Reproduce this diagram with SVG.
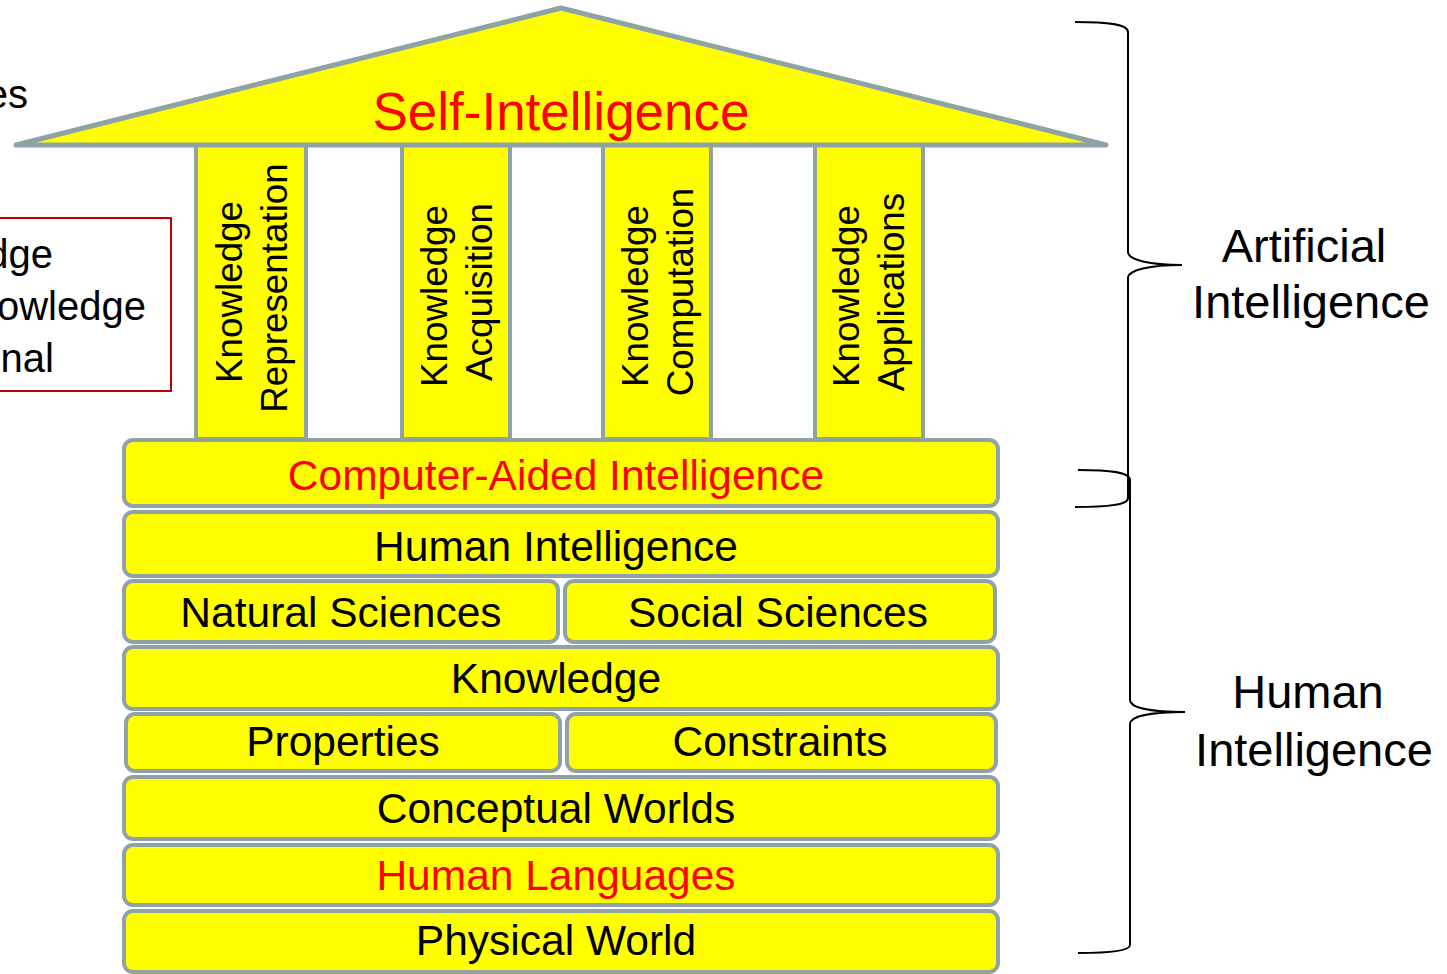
<svg xmlns="http://www.w3.org/2000/svg" width="1447" height="974" viewBox="0 0 1447 974">
<style>
text{font-family:"Liberation Sans",Arial,sans-serif;fill:#000}
.red{fill:#FF0000}
.blk{fill:#FFFF00;stroke:#8FA3A7;stroke-width:4}
.pil{fill:#FFFF00;stroke:#8FA3A7;stroke-width:4}
.t42{font-size:42.5px;text-anchor:middle}
.t36{font-size:36.8px;text-anchor:middle}
.t46{font-size:47px;text-anchor:middle}
.t40{font-size:40px;text-anchor:end}
.brace{fill:none;stroke:#000;stroke-width:2}
</style>
<rect width="1447" height="974" fill="#FFFFFF"/>
<g id="left-fragments">
<text class="t40" x="28" y="108">es</text>
<rect x="-10" y="218" width="181" height="173" fill="none" stroke="#C00000" stroke-width="2"/>
<text class="t40" x="53" y="268">dge</text>
<text class="t40" x="146" y="320">owledge</text>
<text class="t40" x="54" y="372">nal</text>
</g>
<g id="pillar-representation">
<rect class="pil" x="196" y="143" width="110" height="296"/>
<text class="t36" transform="translate(242,292) rotate(-90)">Knowledge</text>
<text class="t36" transform="translate(287,288) rotate(-90)">Representation</text>
</g>
<g id="pillar-acquisition">
<rect class="pil" x="402" y="143" width="108" height="296"/>
<text class="t36" transform="translate(447,296) rotate(-90)">Knowledge</text>
<text class="t36" transform="translate(492,292) rotate(-90)">Acquisition</text>
</g>
<g id="pillar-computation">
<rect class="pil" x="603" y="143" width="108" height="296"/>
<text class="t36" transform="translate(648,296) rotate(-90)">Knowledge</text>
<text class="t36" transform="translate(693,292) rotate(-90)">Computation</text>
</g>
<g id="pillar-applications">
<rect class="pil" x="815" y="143" width="108" height="296"/>
<text class="t36" transform="translate(859,296) rotate(-90)">Knowledge</text>
<text class="t36" transform="translate(904,292) rotate(-90)">Applications</text>
</g>
<g id="roof">
<polygon points="16,145 561,8 1106,145" fill="#FFFF00" stroke="#8FA3A7" stroke-width="5" stroke-linejoin="round"/>
<text class="red" x="561" y="130" font-size="53" text-anchor="middle">Self-Intelligence</text>
</g>
<g id="computer-aided">
<rect class="blk" x="124" y="440" width="874" height="66" rx="9"/>
<text class="t42 red" x="556" y="490">Computer-Aided Intelligence</text>
</g>
<g id="human-intelligence">
<rect class="blk" x="124" y="512" width="874" height="64" rx="9"/>
<text class="t42" x="556" y="561">Human Intelligence</text>
</g>
<g id="natural-sciences">
<rect class="blk" x="124" y="581" width="434" height="61" rx="9"/>
<text class="t42" x="341" y="627">Natural Sciences</text>
</g>
<g id="social-sciences">
<rect class="blk" x="565" y="581" width="430" height="61" rx="9"/>
<text class="t42" x="778" y="627">Social Sciences</text>
</g>
<g id="knowledge">
<rect class="blk" x="124" y="647" width="874" height="62" rx="9"/>
<text class="t42" x="556" y="693">Knowledge</text>
</g>
<g id="properties">
<rect class="blk" x="126" y="714" width="434" height="57" rx="9"/>
<text class="t42" x="343" y="756">Properties</text>
</g>
<g id="constraints">
<rect class="blk" x="567" y="714" width="429" height="57" rx="9"/>
<text class="t42" x="780" y="756">Constraints</text>
</g>
<g id="conceptual-worlds">
<rect class="blk" x="124" y="777" width="874" height="62" rx="9"/>
<text class="t42" x="556" y="823">Conceptual Worlds</text>
</g>
<g id="human-languages">
<rect class="blk" x="124" y="845" width="874" height="60" rx="9"/>
<text class="t42 red" x="556" y="890">Human Languages</text>
</g>
<g id="physical-world">
<rect class="blk" x="124" y="911" width="874" height="61" rx="9"/>
<text class="t42" x="556" y="955">Physical World</text>
</g>
<g id="connectors">
<path class="brace" d="M1075,22 C1108,22 1128,24 1128,32 L1128,252 C1128,260 1150,265 1182,265 C1150,265 1128,270 1128,278 L1128,498 C1128,505 1108,507 1075,507"/>
<path class="brace" d="M1078,470 C1110,470 1130,472 1130,480 L1130,700 C1130,708 1152,712 1185,712 C1152,712 1130,716 1130,724 L1130,945 C1130,951 1110,953 1078,953"/>
</g>
<g id="label-ai">
<text class="t46" x="1304" y="262">Artificial</text>
<text class="t46" x="1311" y="318">Intelligence</text>
</g>
<g id="label-hi">
<text class="t46" x="1308" y="708">Human</text>
<text class="t46" x="1314" y="766">Intelligence</text>
</g>
</svg>
